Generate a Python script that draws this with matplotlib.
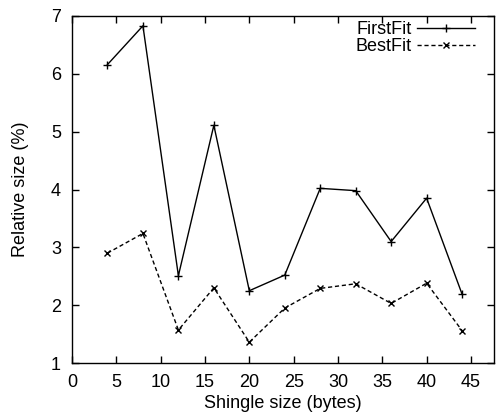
import matplotlib
matplotlib.use("Agg")
import matplotlib.pyplot as plt

shingle = [4, 8, 12, 16, 20, 24, 28, 32, 36, 40, 44]
firstfit = [6.16, 6.83, 2.51, 5.11, 2.25, 2.52, 4.02, 3.98, 3.10, 3.85, 2.19]
bestfit = [2.90, 3.24, 1.57, 2.30, 1.36, 1.95, 2.29, 2.37, 2.03, 2.38, 1.56]
xticks = [0, 5, 10, 15, 20, 25, 30, 35, 40, 45]
yticks = [1, 2, 3, 4, 5, 6, 7]

plt.rcParams['font.family'] = ['Liberation Sans', 'DejaVu Sans']
plt.rcParams['font.size'] = 13

fig = plt.figure(figsize=(4.96, 4.17), dpi=100)
L, R, T, B = 72, 494, 16, 363
ax = fig.add_axes([L/496, 1 - B/417, (R-L)/496, (B-T)/417])

ax.plot(shingle, firstfit, color='black', lw=1, marker='+', ms=6, mew=1, label='FirstFit')
ax.plot(shingle, bestfit, color='black', lw=1, ls=(0, (3, 2)), marker='x', ms=5, mew=1, label='BestFit')

ax.set_xlim(0, 47.6)
ax.set_ylim(1, 7)
ax.set_xticks(xticks)
ax.set_yticks(yticks)
ax.tick_params(direction='in', top=True, right=True, length=5, width=1, pad=8)
for s in ax.spines.values():
    s.set_linewidth(1)
ax.set_xlabel('Shingle size (bytes)', labelpad=3)
ax.set_ylabel('Relative size (%)', labelpad=16)

ax.legend(loc='upper right', bbox_to_anchor=((475-L)/(R-L), (B-21)/(B-T)),
          frameon=False, markerfirst=False, handlelength=3.2, borderpad=0,
          borderaxespad=0, labelspacing=0.0, handletextpad=0.3, fontsize=13)

fig.savefig('out.png', dpi=100)
